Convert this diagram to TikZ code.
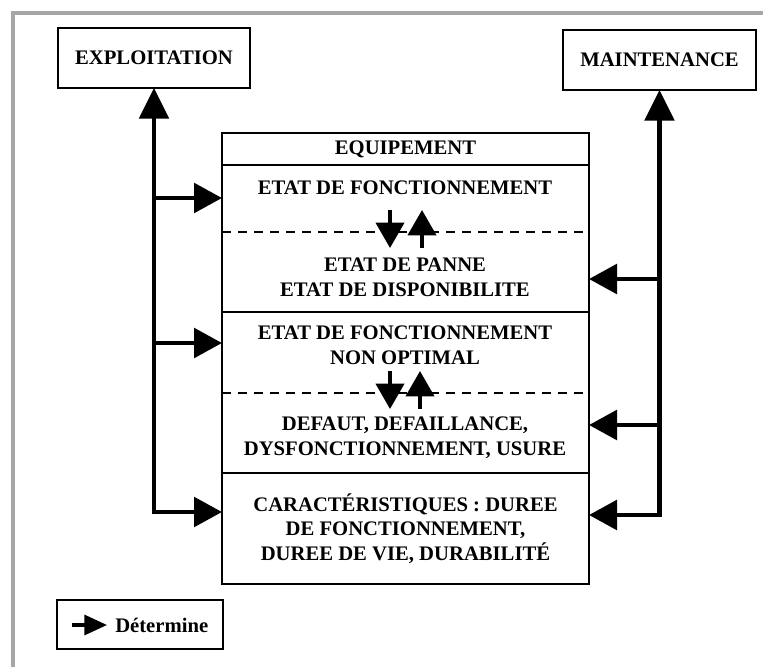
\documentclass[tikz,border=0pt]{standalone}
\usepackage{fontspec}
\setmainfont{Liberation Serif}
\usetikzlibrary{arrows.meta, calc}

\begin{document}
\begin{tikzpicture}[
  x=0.75pt, y=-0.75pt,
  txt/.style={font=\bfseries\fontsize{15.5}{18.5}\selectfont, align=center,
    inner sep=0pt},
  block/.style={draw, line width=1.5pt, fill=white, outer sep=0pt,
    font=\bfseries\fontsize{15.5}{18.5}\selectfont, align=center},
  rowbox/.style={draw, line width=1.5pt, minimum width=275.25pt,
    outer sep=0pt, inner sep=0pt, align=center,
    font=\bfseries\fontsize{15.5}{18.5}\selectfont},
  bus/.style={line width=3.5pt},
  arrow/.style={line width=3.5pt,
    -{Triangle[length=21pt, width=22pt]}},
  uparrow/.style={line width=3.5pt,
    -{Triangle[length=23pt, width=22pt]}},
  statearrow/.style={line width=3pt,
    -{Triangle[length=19pt, width=21pt]}},
  sep/.style={dashed, line width=1.5pt, dash pattern=on 7pt off 5pt},
]

% frame and bounding box
\fill[white] (0,0) rectangle (763,667);
\useasboundingbox (0,0) rectangle (763,667);
\draw[gray!70, line width=3pt] (13,667) -- (13,13) -- (763,13);

% ===== TOP BOXES =====
\node[block, minimum width=144pt, minimum height=45pt] (expl) at (154,58)
  {EXPLOITATION};
\node[block, minimum width=144.75pt, minimum height=45pt] (maint) at (659.5,60)
  {MAINTENANCE};

% ===== EQUIPEMENT =====
\node[rowbox, minimum height=24pt] (equip) at (405.5,149) {EQUIPEMENT};
\node[rowbox, minimum height=110.25pt] (row1) at (405.5,238.5) {};
\node[rowbox, minimum height=120.75pt] (row2) at (405.5,392.5) {};
\node[rowbox, minimum height=83.25pt] (row3) at (405.5,528.5)
  {CARACTÉRISTIQUES : DUREE\\DE FONCTIONNEMENT,\\DUREE DE VIE, DURABILITÉ};

\node[txt] (fonct) at (405,188) {ETAT DE FONCTIONNEMENT};
\node[txt] (panne) at (405,277) {ETAT DE PANNE\\ETAT DE DISPONIBILITE};
\node[txt] (nonopt) at (405,345) {ETAT DE FONCTIONNEMENT\\NON OPTIMAL};
\node[txt] (defaut) at (405,438)
  {DEFAUT, DEFAILLANCE,\\DYSFONCTIONNEMENT, USURE};

% dashed separators
\coordinate (dash1) at (0,232);
\coordinate (dash2) at (0,393);
\draw[sep] (row1.west |- dash1) -- (row1.east |- dash1);
\draw[sep] (row2.west |- dash2) -- (row2.east |- dash2);

% state changes
\coordinate (down1) at (390,210);
\coordinate (up1) at (422,248);
\coordinate (down2) at (390,371);
\coordinate (up2) at (420,409);
\draw[statearrow] (down1) -- ++(0,38);
\draw[statearrow] (up1) -- ++(0,-38);
\draw[statearrow] (down2) -- ++(0,38);
\draw[statearrow] (up2) -- ++(0,-38);

% ===== LEFT BUS: EXPLOITATION =====
\coordinate (lbus) at (expl.south |- 0,512);
\coordinate (la) at (lbus |- 0,198);
\coordinate (lb) at (lbus |- 0,343);
\draw[uparrow] ([yshift=-1.75pt]lbus) -- (expl.south);
\draw[arrow] (la) -- (la -| row1.west);
\draw[arrow] (lb) -- (lb -| row2.west);
\draw[arrow] ([xshift=-1.75pt]lbus) -- (lbus -| row3.west);

% ===== RIGHT BUS: MAINTENANCE =====
\coordinate (rbus) at (maint.south |- 0,515);
\coordinate (ra) at (rbus |- 0,279);
\coordinate (rb) at (rbus |- 0,425);
\draw[uparrow] ([yshift=-1.75pt]rbus) -- (maint.south);
\draw[arrow] (ra) -- (ra -| row1.east);
\draw[arrow] (rb) -- (rb -| row2.east);
\draw[arrow] ([xshift=1.75pt]rbus) -- (rbus -| row3.east);

% ===== LEGEND =====
\node[block, minimum width=124.5pt, minimum height=36.75pt] (legend)
  at (140,624.5) {};
\coordinate (key) at (72,625);
\draw[line width=2.5pt, -{Triangle[length=17pt, width=15pt]}] (key) -- ++(35,0);
\node[txt, anchor=west] (keytext) at (115,625) {Détermine};

\end{tikzpicture}
\end{document}
